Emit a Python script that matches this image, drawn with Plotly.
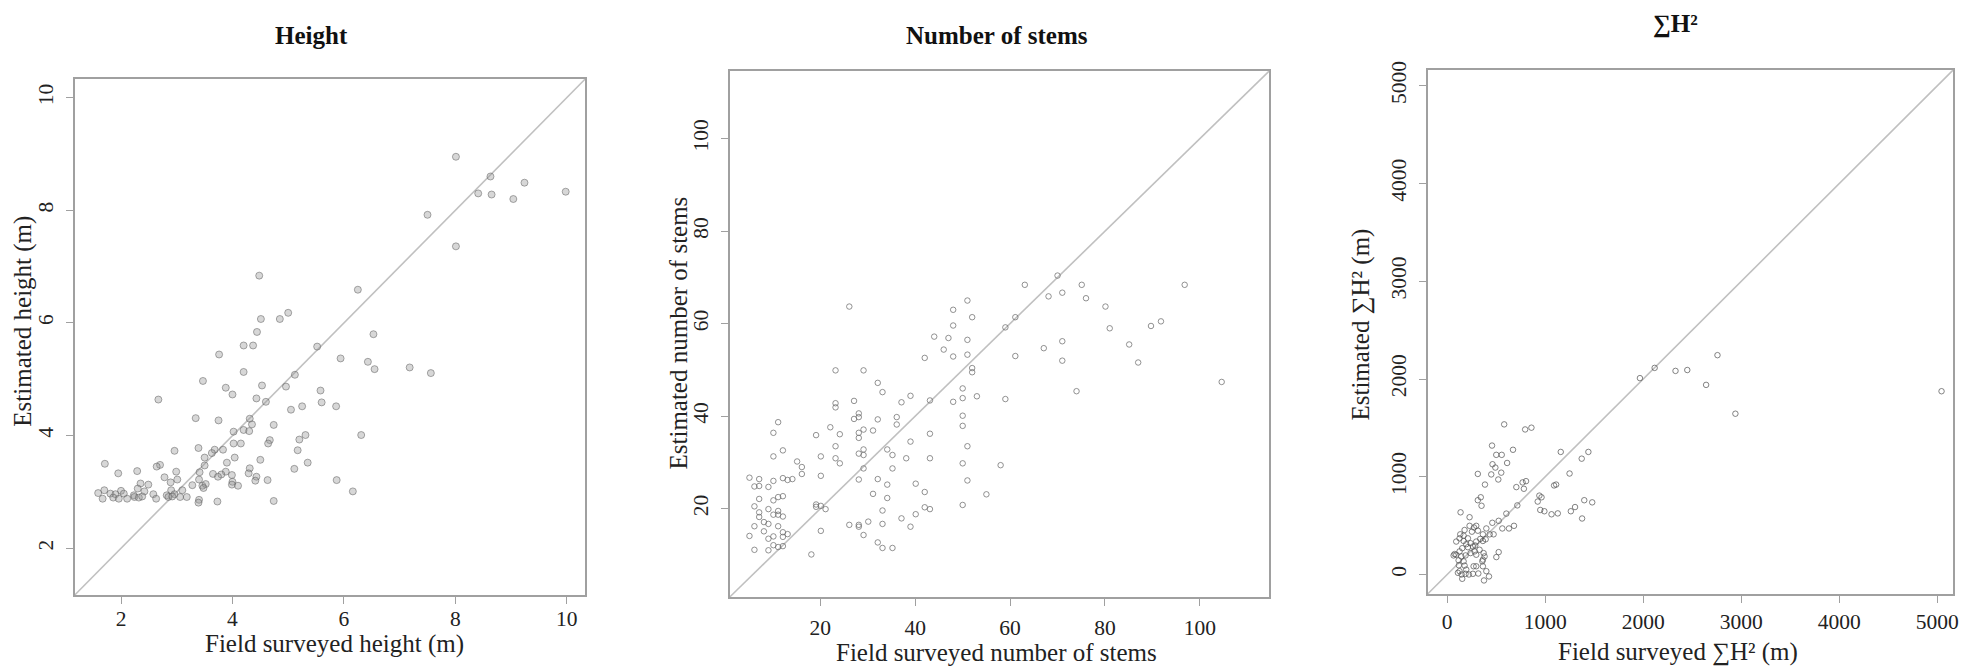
import plotly.graph_objects as go

# ---------------- data ----------------
height_field = [8.01, 8.63, 8.41, 8.65, 9.04, 9.24, 9.98, 7.5, 8.01, 6.25, 4.48, 4.51, 5.0, 4.85, 4.44, 4.2, 4.37,
                5.52, 3.76, 5.94, 6.53, 6.43, 6.55, 7.18, 7.56, 4.2, 5.12, 3.47, 4.53, 4.96, 3.88, 5.58, 4.0, 4.43,
                2.67, 4.6, 5.6, 5.86, 5.25, 5.05, 3.34, 4.31, 3.75, 4.35, 4.74, 4.2, 4.3, 4.02, 6.31, 5.31, 5.2,
                4.67, 4.15, 4.02, 4.64, 3.39, 3.83, 3.68, 2.96, 5.17, 4.04, 3.5, 3.63, 4.5, 5.35, 3.9, 1.71, 2.7,
                2.64, 3.5, 4.31, 5.11, 2.29, 3.88, 1.95, 2.99, 3.41, 3.65, 4.29, 3.99, 3.8, 3.74, 4.43, 2.78, 3.01,
                5.87, 4.63, 4.41, 3.4, 2.89, 2.35, 4.0, 3.99, 4.1, 3.28, 3.46, 3.52, 3.48, 2.49, 2.3, 3.1, 6.16,
                2.9, 1.7, 2.0, 2.42, 1.59, 1.81, 1.9, 2.05, 2.23, 2.58, 2.82, 2.96, 1.67, 1.86, 1.96, 2.11, 2.24,
                2.32, 2.38, 2.63, 2.85, 2.92, 3.06, 3.18, 3.4, 3.39, 3.73, 4.74]
height_est = [8.95, 8.6, 8.3, 8.28, 8.2, 8.49, 8.33, 7.92, 7.36, 6.59, 6.84, 6.07, 6.18, 6.07, 5.84, 5.6, 5.6,
              5.58, 5.44, 5.37, 5.8, 5.31, 5.18, 5.21, 5.11, 5.13, 5.08, 4.97, 4.89, 4.87, 4.85, 4.8, 4.73, 4.66,
              4.64, 4.6, 4.59, 4.52, 4.52, 4.46, 4.31, 4.3, 4.27, 4.2, 4.19, 4.1, 4.08, 4.07, 4.01, 4.01, 3.93,
              3.92, 3.86, 3.86, 3.86, 3.78, 3.75, 3.75, 3.73, 3.74, 3.61, 3.61, 3.69, 3.57, 3.52, 3.52, 3.5, 3.48,
              3.45, 3.47, 3.42, 3.41, 3.37, 3.36, 3.33, 3.36, 3.35, 3.32, 3.33, 3.3, 3.31, 3.27, 3.27, 3.26, 3.22,
              3.21, 3.21, 3.2, 3.22, 3.17, 3.15, 3.18, 3.13, 3.11, 3.12, 3.11, 3.14, 3.07, 3.13, 3.06, 3.03, 3.01,
              3.03, 3.03, 3.02, 3.01, 2.98, 2.97, 2.96, 2.97, 2.94, 2.96, 2.94, 2.96, 2.88, 2.9, 2.88, 2.88, 2.91,
              2.9, 2.92, 2.88, 2.91, 2.92, 2.91, 2.91, 2.86, 2.81, 2.83, 2.84]

stems_field = [5.05, 6.1, 7.1, 7.1, 9.05, 10.1, 12.1, 13.1, 14.1, 7.1, 10.1, 11.1, 12.1, 6.1, 9.05, 7.1, 7.1, 10.1,
               11.1, 11.1, 12.1, 8.1, 9.05, 6.1, 11.1, 8.1, 12.1, 13.1, 5.05, 10.1, 12.1, 9.05, 10.1, 11.1, 12.1,
               6.1, 9.05, 10.1, 11.1, 10.1, 12.1, 15.1, 16.1, 16.1, 19.1, 20.1, 20.1, 19.1, 19.1, 20.1, 21.1, 20.1,
               18.1, 22.1, 23.2, 23.2, 23.2, 23.2, 23.2, 24.1, 24.1, 26.1, 26.1, 27.1, 27.1, 28.1, 28.1, 28.1, 28.1,
               28.1, 28.1, 28.1, 28.1, 29.1, 29.1, 29.1, 29.1, 29.1, 29.1, 30.1, 31.1, 31.1, 32.1, 32.1, 32.1, 32.1,
               33.1, 33.1, 33.1, 33.1, 34.1, 34.1, 34.1, 35.2, 35.2, 35.2, 36.1, 36.1, 37.1, 37.1, 38.1, 39.0, 39.0,
               39.0, 40.1, 40.1, 42.0, 42.0, 42.0, 43.1, 43.1, 43.1, 43.1, 44.0, 46.0, 47.0, 48.0, 48.0, 48.0, 48.0,
               50.0, 50.0, 50.0, 50.0, 50.0, 50.0, 51.0, 51.0, 51.0, 51.0, 51.0, 52.0, 52.0, 52.0, 53.0, 55.0, 58.0,
               59.0, 59.0, 61.1, 61.1, 63.1, 67.1, 68.1, 70.0, 71.0, 71.0, 71.0, 74.0, 75.1, 76.0, 80.1, 81.0, 85.1,
               87.0, 89.7, 91.8, 96.8, 104.6]
stems_est = [26.7, 24.8, 24.9, 26.4, 24.7, 26.0, 26.6, 26.2, 26.4, 22.1, 21.8, 22.5, 22.7, 20.5, 19.9, 19.2, 18.2,
             18.7, 19.5, 18.7, 18.3, 17.1, 16.7, 16.2, 16.2, 15.1, 14.9, 14.5, 14.1, 14.0, 13.9, 13.5, 12.1, 11.7,
             11.9, 11.1, 11.0, 36.4, 38.7, 31.3, 32.6, 30.2, 29.0, 27.5, 35.9, 31.3, 27.1, 20.9, 20.4, 20.6, 19.9,
             15.2, 10.1, 37.6, 49.9, 42.8, 41.9, 33.5, 30.9, 36.1, 29.8, 63.7, 16.5, 43.3, 39.4, 40.6, 39.8, 36.4,
             35.3, 31.9, 26.3, 16.5, 16.1, 49.9, 37.1, 32.8, 31.6, 28.7, 14.3, 17.2, 36.9, 23.2, 47.2, 39.3, 26.4,
             12.7, 45.2, 19.6, 16.7, 11.5, 32.8, 25.2, 22.3, 31.6, 28.7, 11.5, 39.8, 38.2, 17.9, 43.0, 30.9, 44.4,
             34.5, 16.1, 25.4, 18.8, 52.6, 23.6, 20.3, 43.4, 36.2, 30.9, 19.9, 57.2, 54.4, 56.9, 63.0, 59.6, 52.9,
             43.1, 46.0, 43.9, 40.1, 37.9, 29.8, 20.8, 65.0, 56.5, 53.3, 33.5, 26.1, 61.4, 50.4, 49.5, 44.3, 23.1,
             29.4, 59.2, 43.7, 61.4, 53.0, 68.4, 54.7, 65.9, 70.4, 66.7, 56.2, 52.0, 45.4, 68.4, 65.5, 63.7, 59.0,
             55.5, 51.6, 59.5, 60.5, 68.4, 47.4]

sumh2_field = [5043, 2940, 2757, 2641, 2449, 2329, 2116, 1966, 1479, 1440, 1372, 1398, 1376, 1304, 1248, 1261, 1158,
               1128, 1111, 1090, 1064, 962, 940, 923, 991, 949, 859, 795, 804, 782, 769, 705, 671, 611, 581, 556,
               551, 500, 491, 521, 457, 462, 449, 312, 385, 342, 312, 350,
               136, 228, 133, 177, 228, 273, 296, 252, 313, 364, 433, 399, 126, 92, 167, 194, 238, 262, 296, 337,
               364, 392, 286, 211, 153, 126, 92, 65, 143, 187, 116, 167, 238, 279, 330, 371, 381, 364, 296, 501,
               525, 473, 460, 525, 562, 630, 603, 681, 715, 119, 177, 269, 296, 364, 358, 126, 147, 187, 221, 262,
               317, 375, 399, 426, 153, 109, 194, 75, 167, 211]
sumh2_est = [1875, 1645, 2244, 1940, 2092, 2083, 2114, 2009, 738, 1254, 1185, 760, 573, 690, 1033, 647, 1254,
             625, 920, 911, 616, 790, 807, 746, 647, 660, 1502, 1484, 955, 877, 942, 894, 1276, 1141, 1536, 1224,
             1042, 1224, 1094, 972, 1319, 1128, 1024, 1029, 920, 790, 760, 703,
             636, 586, 411, 455, 498, 481, 498, 438, 448, 411, 411, 471, 370, 337, 343, 310, 320, 286, 337, 364,
             343, 360, 296, 279, 269, 236, 202, 195, 185, 195, 145, 135, 219, 236, 253, 219, 185, 152, 202, 178,
             229, 411, 529, 549, 471, 471, 623, 498, 707, 94, 91, 84, 84, 84, 135, 34, 0, 7, 0, 7,
             10, -61, 34, -20, -44, 17, 50, 209, 397, 370]

titles = ["Height", "Number of stems", "∑H²"]
x_titles = ["Field surveyed height (m)", "Field surveyed number of stems", "Field surveyed ∑H² (m)"]
y_titles = ["Estimated height (m)", "Estimated number of stems", "Estimated ∑H² (m)"]
ranges = [[1.17, 10.33], [0.9, 114.6], [-200, 5160]]
tick_vals = [[2, 4, 6, 8, 10], [20, 40, 60, 80, 100], [0, 1000, 2000, 3000, 4000, 5000]]

W, H = 1964, 670
# plot-area boxes in pixels: (left, right, top, bottom)
boxes = [(75, 587, 71, 594), (732, 1273, 63, 596), (1432, 1959, 62, 593)]
title_pos = [(312, 27), (1000, 27), (1681, 15)]
xtitle_pos = [(336, 644), (1000, 652), (1683, 652)]
ytitle_pos = [(23, 316), (681, 328), (1365, 320)]
xlab_shift = [-4, 3, 0]

FONT = "Liberation Serif, Times New Roman, serif"
fig = go.Figure()

data = [(height_field, height_est), (stems_field, stems_est), (sumh2_field, sumh2_est)]
marker_styles = [
    dict(symbol="circle", size=7, color="rgba(150,150,150,0.38)", line=dict(color="rgba(90,90,90,0.5)", width=1)),
    dict(symbol="circle-open", size=5.5, color="rgba(110,110,110,0.75)", line=dict(width=1)),
    dict(symbol="circle-open", size=5.5, color="rgba(80,80,80,0.7)", line=dict(width=1)),
]

for i, (xs, ys) in enumerate(data):
    sfx = "" if i == 0 else str(i + 1)
    fig.add_trace(go.Scatter(x=xs, y=ys, mode="markers", marker=marker_styles[i],
                             xaxis="x" + sfx, yaxis="y" + sfx, showlegend=False, hoverinfo="skip"))
    l, r, t, b = boxes[i]
    ax = dict(range=ranges[i], tickvals=tick_vals[i], showgrid=False, zeroline=False,
              showline=True, linecolor="#a0a0a0", linewidth=1.8, mirror=True,
              ticks="outside", ticklen=7, tickwidth=1.2, tickcolor="#a0a0a0",
              ticklabeloverflow="allow",
              tickfont=dict(family=FONT, size=21.5, color="#222"))
    fig.layout["xaxis" + sfx] = dict(ax, domain=[l / W, r / W], anchor="y" + sfx,
                                     ticklabelstandoff=xlab_shift[i])
    fig.layout["yaxis" + sfx] = dict(ax, domain=[1 - b / H, 1 - t / H], anchor="x" + sfx, tickangle=-90,
                                     ticklabelstandoff=4)
    # 1:1 reference line across the plot area
    fig.add_shape(type="line", xref="x%s domain" % sfx, yref="y%s domain" % sfx, x0=0, y0=0, x1=1, y1=1,
                  line=dict(color="#c0c0c0", width=1.6), layer="below")
    tx, ty = title_pos[i]
    fig.add_annotation(text="<b>%s</b>" % titles[i], x=tx / W, y=1 - ty / H, xref="paper", yref="paper",
                       showarrow=False, font=dict(family=FONT, size=25, color="#111"),
                       xanchor="center", yanchor="middle")
    tx, ty = xtitle_pos[i]
    fig.add_annotation(text=x_titles[i], x=tx / W, y=1 - ty / H, xref="paper", yref="paper",
                       showarrow=False, font=dict(family=FONT, size=25, color="#222"),
                       xanchor="center", yanchor="middle")
    tx, ty = ytitle_pos[i]
    fig.add_annotation(text=y_titles[i], x=tx / W, y=1 - ty / H, xref="paper", yref="paper", textangle=-90,
                       showarrow=False, font=dict(family=FONT, size=25, color="#222"),
                       xanchor="center", yanchor="middle")

fig.update_layout(width=W, height=H, margin=dict(l=0, r=0, t=0, b=0),
                  paper_bgcolor="white", plot_bgcolor="white")
fig.write_html("out.html", config={"displayModeBar": False},
               post_script="document.body.style.margin='0px';document.body.style.overflow='hidden';")
